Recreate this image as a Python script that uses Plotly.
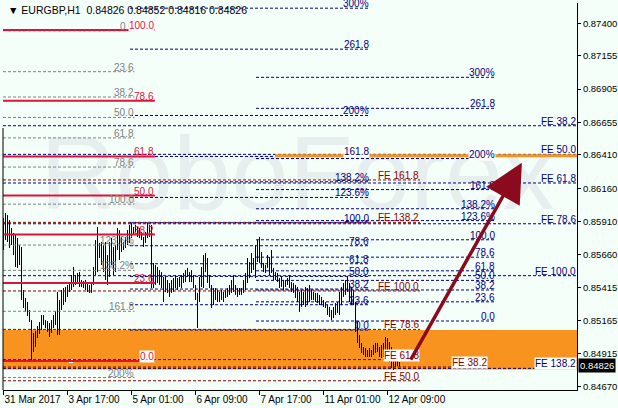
import plotly.graph_objects as go

# ---------------- data ----------------
bar_index = list(range(199))

bar_open = [
    0.85860, 0.85780, 0.85900, 0.85800, 0.85850, 0.85760, 0.85700, 0.85740, 0.85600, 0.85700,
    0.85340, 0.85300, 0.85260, 0.85220, 0.85160, 0.84990, 0.85000, 0.85060, 0.85100, 0.85140,
    0.85150, 0.85160, 0.85130, 0.85120, 0.85100, 0.85140, 0.85180, 0.85200, 0.85100, 0.85280,
    0.85330, 0.85350, 0.85380, 0.85400, 0.85440, 0.85480, 0.85470, 0.85490, 0.85460, 0.85450,
    0.85430, 0.85420, 0.85410, 0.85400, 0.85390, 0.85420, 0.85540, 0.85720, 0.85700, 0.85690,
    0.85620, 0.85680, 0.85520, 0.85610, 0.85720, 0.85640, 0.85690, 0.85700, 0.85780, 0.85730,
    0.85740, 0.85720, 0.85780, 0.85830, 0.85870, 0.85840, 0.85860, 0.85850, 0.85820, 0.85800,
    0.85780, 0.85760, 0.85820, 0.85870, 0.85860, 0.85480, 0.85520, 0.85500, 0.85480, 0.85460,
    0.85440, 0.85420, 0.85400, 0.85390, 0.85430, 0.85440, 0.85460, 0.85430, 0.85450, 0.85480,
    0.85500, 0.85520, 0.85530, 0.85510, 0.85520, 0.85480, 0.85420, 0.85360, 0.85340, 0.85480,
    0.85540, 0.85650, 0.85580, 0.85500, 0.85420, 0.85330, 0.85360, 0.85340, 0.85350, 0.85330,
    0.85360, 0.85350, 0.85380, 0.85400, 0.85420, 0.85450, 0.85400, 0.85370, 0.85380, 0.85390,
    0.85400, 0.85450, 0.85500, 0.85560, 0.85590, 0.85580, 0.85620, 0.85720, 0.85700, 0.85640,
    0.85580, 0.85560, 0.85570, 0.85580, 0.85620, 0.85540, 0.85500, 0.85480, 0.85470, 0.85430,
    0.85440, 0.85440, 0.85460, 0.85470, 0.85420, 0.85390, 0.85380, 0.85350, 0.85320, 0.85300,
    0.85350, 0.85300, 0.85380, 0.85400, 0.85340, 0.85360, 0.85330, 0.85340, 0.85310, 0.85300,
    0.85290, 0.85280, 0.85270, 0.85230, 0.85210, 0.85200, 0.85250, 0.85230, 0.85290, 0.85360,
    0.85400, 0.85440, 0.85460, 0.85420, 0.85330, 0.85390, 0.85300, 0.85090, 0.85000, 0.84970,
    0.84940, 0.84920, 0.84900, 0.84920, 0.84910, 0.84930, 0.84970, 0.84950, 0.84960, 0.84910,
    0.84960, 0.84980, 0.85000, 0.84970, 0.84880, 0.84840, 0.84860, 0.84840, 0.84826,
]
bar_high = [
    0.85936, 0.85973, 0.85958, 0.85921, 0.85860, 0.85823, 0.85808, 0.85785, 0.85733, 0.85718,
    0.85394, 0.85334, 0.85304, 0.85244, 0.85168, 0.85071, 0.85086, 0.85123, 0.85153, 0.85206,
    0.85206, 0.85168, 0.85161, 0.85146, 0.85168, 0.85206, 0.85236, 0.85379, 0.85319, 0.85394,
    0.85409, 0.85417, 0.85432, 0.85447, 0.85507, 0.85567, 0.85507, 0.85522, 0.85529, 0.85469,
    0.85462, 0.85469, 0.85447, 0.85432, 0.85447, 0.85567, 0.85770, 0.85868, 0.85748, 0.85755,
    0.85733, 0.85755, 0.85657, 0.85755, 0.85785, 0.85718, 0.85733, 0.85860, 0.85845, 0.85793,
    0.85755, 0.85793, 0.85845, 0.85883, 0.85898, 0.85868, 0.85883, 0.85868, 0.85860, 0.85830,
    0.85793, 0.85830, 0.85898, 0.85883, 0.85883, 0.85597, 0.85582, 0.85567, 0.85544, 0.85529,
    0.85492, 0.85492, 0.85469, 0.85447, 0.85469, 0.85484, 0.85507, 0.85484, 0.85492, 0.85507,
    0.85522, 0.85544, 0.85560, 0.85529, 0.85544, 0.85507, 0.85432, 0.85372, 0.85492, 0.85567,
    0.85657, 0.85672, 0.85635, 0.85507, 0.85432, 0.85409, 0.85409, 0.85394, 0.85379, 0.85394,
    0.85379, 0.85394, 0.85409, 0.85432, 0.85469, 0.85507, 0.85432, 0.85409, 0.85409, 0.85409,
    0.85469, 0.85522, 0.85635, 0.85605, 0.85672, 0.85635, 0.85733, 0.85770, 0.85793, 0.85680,
    0.85597, 0.85582, 0.85657, 0.85642, 0.85695, 0.85560, 0.85529, 0.85522, 0.85484, 0.85492,
    0.85469, 0.85469, 0.85484, 0.85507, 0.85454, 0.85447, 0.85432, 0.85417, 0.85379, 0.85394,
    0.85379, 0.85417, 0.85409, 0.85432, 0.85394, 0.85379, 0.85372, 0.85372, 0.85357, 0.85342,
    0.85319, 0.85304, 0.85281, 0.85266, 0.85244, 0.85266, 0.85296, 0.85304, 0.85379, 0.85417,
    0.85447, 0.85469, 0.85492, 0.85447, 0.85417, 0.85394, 0.85304, 0.85153, 0.85056, 0.84996,
    0.84966, 0.84958, 0.84943, 0.84958, 0.84943, 0.84981, 0.84996, 0.84996, 0.84966, 0.84981,
    0.84996, 0.85041, 0.85033, 0.85003, 0.84966, 0.84928, 0.84905, 0.84883, 0.84852,
]
bar_low = [
    0.85695, 0.85770, 0.85755, 0.85710, 0.85733, 0.85657, 0.85567, 0.85560, 0.85582, 0.85319,
    0.85259, 0.85229, 0.85198, 0.85153, 0.84860, 0.84928, 0.84966, 0.85033, 0.85063, 0.85093,
    0.85131, 0.85108, 0.85078, 0.85041, 0.85071, 0.85108, 0.85131, 0.85056, 0.85056, 0.85244,
    0.85281, 0.85304, 0.85342, 0.85379, 0.85394, 0.85417, 0.85432, 0.85447, 0.85417, 0.85417,
    0.85409, 0.85394, 0.85379, 0.85372, 0.85372, 0.85432, 0.85507, 0.85529, 0.85635, 0.85582,
    0.85529, 0.85469, 0.85432, 0.85492, 0.85582, 0.85507, 0.85529, 0.85695, 0.85620, 0.85680,
    0.85695, 0.85710, 0.85733, 0.85748, 0.85785, 0.85808, 0.85830, 0.85793, 0.85785, 0.85770,
    0.85718, 0.85748, 0.85785, 0.85793, 0.85409, 0.85409, 0.85432, 0.85447, 0.85432, 0.85409,
    0.85304, 0.85379, 0.85372, 0.85342, 0.85372, 0.85379, 0.85409, 0.85394, 0.85417, 0.85409,
    0.85447, 0.85454, 0.85492, 0.85454, 0.85454, 0.85409, 0.85319, 0.85108, 0.85304, 0.85417,
    0.85409, 0.85529, 0.85447, 0.85409, 0.85259, 0.85281, 0.85319, 0.85304, 0.85304, 0.85319,
    0.85304, 0.85334, 0.85342, 0.85357, 0.85372, 0.85379, 0.85357, 0.85342, 0.85357, 0.85357,
    0.85372, 0.85394, 0.85447, 0.85484, 0.85522, 0.85544, 0.85484, 0.85605, 0.85597, 0.85560,
    0.85529, 0.85522, 0.85560, 0.85507, 0.85522, 0.85469, 0.85469, 0.85454, 0.85409, 0.85417,
    0.85394, 0.85417, 0.85432, 0.85409, 0.85379, 0.85372, 0.85334, 0.85304, 0.85229, 0.85266,
    0.85281, 0.85266, 0.85281, 0.85304, 0.85319, 0.85319, 0.85304, 0.85296, 0.85281, 0.85281,
    0.85266, 0.85259, 0.85206, 0.85191, 0.85168, 0.85183, 0.85206, 0.85221, 0.85206, 0.85281,
    0.85342, 0.85357, 0.85379, 0.85304, 0.85281, 0.85281, 0.85078, 0.84996, 0.84958, 0.84920,
    0.84905, 0.84890, 0.84890, 0.84890, 0.84890, 0.84905, 0.84920, 0.84928, 0.84890, 0.84883,
    0.84890, 0.84928, 0.84920, 0.84853, 0.84808, 0.84792, 0.84815, 0.84820, 0.84816,
]
bar_close = [
    0.85780, 0.85900, 0.85800, 0.85850, 0.85760, 0.85700, 0.85740, 0.85600, 0.85700, 0.85340,
    0.85300, 0.85260, 0.85220, 0.85160, 0.84990, 0.85000, 0.85060, 0.85100, 0.85140, 0.85150,
    0.85160, 0.85130, 0.85120, 0.85100, 0.85140, 0.85180, 0.85200, 0.85100, 0.85280, 0.85330,
    0.85350, 0.85380, 0.85400, 0.85440, 0.85480, 0.85470, 0.85490, 0.85460, 0.85450, 0.85430,
    0.85420, 0.85410, 0.85400, 0.85390, 0.85420, 0.85540, 0.85720, 0.85700, 0.85690, 0.85620,
    0.85680, 0.85520, 0.85610, 0.85720, 0.85640, 0.85690, 0.85700, 0.85780, 0.85730, 0.85740,
    0.85720, 0.85780, 0.85830, 0.85870, 0.85840, 0.85860, 0.85850, 0.85820, 0.85800, 0.85780,
    0.85760, 0.85820, 0.85870, 0.85860, 0.85480, 0.85520, 0.85500, 0.85480, 0.85460, 0.85440,
    0.85420, 0.85400, 0.85390, 0.85430, 0.85440, 0.85460, 0.85430, 0.85450, 0.85480, 0.85500,
    0.85520, 0.85530, 0.85510, 0.85520, 0.85480, 0.85420, 0.85360, 0.85340, 0.85480, 0.85540,
    0.85650, 0.85580, 0.85500, 0.85420, 0.85330, 0.85360, 0.85340, 0.85350, 0.85330, 0.85360,
    0.85350, 0.85380, 0.85400, 0.85420, 0.85450, 0.85400, 0.85370, 0.85380, 0.85390, 0.85400,
    0.85450, 0.85500, 0.85560, 0.85590, 0.85580, 0.85620, 0.85720, 0.85700, 0.85640, 0.85580,
    0.85560, 0.85570, 0.85580, 0.85620, 0.85540, 0.85500, 0.85480, 0.85470, 0.85430, 0.85440,
    0.85440, 0.85460, 0.85470, 0.85420, 0.85390, 0.85380, 0.85350, 0.85320, 0.85300, 0.85350,
    0.85300, 0.85380, 0.85400, 0.85340, 0.85360, 0.85330, 0.85340, 0.85310, 0.85300, 0.85290,
    0.85280, 0.85270, 0.85230, 0.85210, 0.85200, 0.85250, 0.85230, 0.85290, 0.85360, 0.85400,
    0.85440, 0.85460, 0.85420, 0.85330, 0.85390, 0.85300, 0.85090, 0.85000, 0.84970, 0.84940,
    0.84920, 0.84900, 0.84920, 0.84910, 0.84930, 0.84970, 0.84950, 0.84960, 0.84910, 0.84960,
    0.84980, 0.85000, 0.84970, 0.84880, 0.84840, 0.84860, 0.84840, 0.84826, 0.84826,
]

time_tick_index = [0, 32, 64, 96, 128, 160, 192]
time_tick_labels = ["31 Mar 2017", "3 Apr 17:00", "5 Apr 01:00", "6 Apr 09:00",
                    "7 Apr 17:00", "11 Apr 01:00", "12 Apr 09:00"]
price_ticks = [0.87400, 0.87155, 0.86905, 0.86655, 0.86410, 0.86160,
               0.85910, 0.85660, 0.85415, 0.85165, 0.84915, 0.84670]
price_range = [0.84642, 0.87553]
bar_range = [-0.25, 286.75]

header_text = "▼ EURGBP,H1  0.84826 0.84852 0.84816 0.84826"
last_price = 0.84826

# Fibonacci retracement (solid red)
red_ratios = [0.0, 0.236, 0.382, 0.5, 0.618, 0.786, 1.0]
red_labels = ["0.0", "23.6", "38.2", "50.0", "61.8", "78.6", "100.0"]
red_anchor = [0.84860, 0.87350]
red_span = [-0.25, 75.7]
red_points_x = [14.9, 24.3, 33.7]
red_points_ratio = [1.0, 0.5, 0.0]

# Fibonacci (grey dashed)
gray_ratios = [0.0, 0.236, 0.382, 0.5, 0.618, 0.786, 1.0, 1.236, 1.382, 1.618, 2.0]
gray_labels = ["0.0", "23.6", "38.2", "50.0", "61.8", "78.6", "100.0",
               "123.6%", "138.2%", "161.8", "200%"]
gray_anchor = [0.87344, 0.86040]
gray_span = [-0.25, 65.5]

# Fibonacci extensions (navy dashed)
ext_ratios = [0.0, 0.236, 0.382, 0.5, 0.618, 0.786, 1.0, 1.236, 1.382, 1.618, 2.0, 2.618, 3.0]
ext_labels = ["0.0", "23.6", "38.2", "50.0", "61.8", "78.6", "100.0",
              "123.6%", "138.2%", "161.8", "200%", "261.8", "300%"]
fibo_a_anchor = [0.85093, 0.85900]
fibo_a_span = [63.25, 183.25]
fibo_b_anchor = [0.85161, 0.85772]
fibo_b_span = [126.25, 246.25]

# Fibonacci expansion (dark red dashed)
fe_red_ratios = [0.5, 0.618, 0.786, 1.0, 1.382, 1.618]
fe_red_labels = ["FE 50.0", "FE 61.8", "FE 78.6", "FE 100.0", "FE 138.2", "FE 161.8"]
fe_red_anchor = [0.84036, 0.85387]
fe_red_span = [-0.25, 208.25]
fe_red_extra_level = [0.84815]
fe_red_extra_label = ["FE 38.2"]
fe_red_extra_span = [-0.25, 242.3]

# Fibonacci expansion (navy dashed, right)
fe_blue_ratios = [0.382, 0.5, 0.618, 0.786, 1.0, 1.382]
fe_blue_labels = ["FE 38.2", "FE 50.0", "FE 61.8", "FE 78.6", "FE 100.0", "FE 138.2"]
fe_blue_anchor = [0.87327, 0.85502]
fe_blue_span = [-0.25, 286.75]

# zones
orange_zone = [0.84796, 0.85093]
orange_level = 0.86404
orange_level_start = 135.75
left_frame_top = 0.86613

# arrow (tail -> head)
arrow_x = [203.2, 259.2]
arrow_y = [0.84860, 0.86352]

# ---------------- styles ----------------
BG = "#F5FFFA"
NAVY = "#000080"
GRAY = "#808080"
DARKRED = "#8B0000"
CRIMSON = "#DC143C"
ORANGE = "#F7931E"
FONT = "Liberation Sans"
LBL = 10
DASH = "3px,2px"

fig = go.Figure()

# watermark
fig.add_trace(go.Scatter(
    x=[147], y=[0.86200], mode="text", text=["RoboForex"],
    textfont=dict(family=FONT, size=104, color="#E7EFEE"),
    hoverinfo="skip", showlegend=False))

# bars
fig.add_trace(go.Ohlc(
    x=bar_index, open=bar_open, high=bar_high, low=bar_low, close=bar_close,
    increasing=dict(line=dict(color="black", width=1)),
    decreasing=dict(line=dict(color="black", width=1)),
    tickwidth=0, showlegend=False, hoverinfo="skip"))

# anchor points of red fibo
fig.add_trace(go.Scatter(
    x=red_points_x,
    y=[red_anchor[0] + r * (red_anchor[1] - red_anchor[0]) for r in red_points_ratio],
    mode="markers", marker=dict(symbol="square", size=4, color="white"),
    hoverinfo="skip", showlegend=False))

shapes = []
annotations = []

shapes.append(dict(type="rect", xref="paper", yref="y", x0=0, x1=1,
                   y0=orange_zone[0], y1=orange_zone[1],
                   fillcolor=ORANGE, line=dict(width=0), layer="below"))

boxed = {("red", "0.0"), ("red", "100.0"), ("a", "161.8"), ("b", "200%"),
         ("fer", "FE 61.8"), ("feb", "FE 138.2")}


def add_tool(key, ratios, labels, anchor, span, color, width, dash, lcolor=None):
    for r, lab in zip(ratios, labels):
        p = anchor[0] + r * (anchor[1] - anchor[0])
        shapes.append(dict(type="line", xref="x", yref="y", x0=span[0], x1=span[1],
                           y0=p, y1=p, line=dict(color=color, width=width, dash=dash),
                           layer="above"))
        ann = dict(x=span[1], y=p, xref="x", yref="y", text=lab, showarrow=False,
                   xanchor="right", yanchor="bottom", yshift=-2, borderpad=0,
                   font=dict(family=FONT, size=LBL, color=lcolor or color))
        if (key, lab) in boxed:
            ann["bgcolor"] = "white"
        annotations.append(ann)


add_tool("feb", fe_blue_ratios, fe_blue_labels, fe_blue_anchor, fe_blue_span, NAVY, 1, DASH)
add_tool("fer", fe_red_ratios, fe_red_labels, fe_red_anchor, fe_red_span, DARKRED, 1, DASH)
add_tool("gray", gray_ratios, gray_labels, gray_anchor, gray_span, GRAY, 1, DASH)
add_tool("a", ext_ratios, ext_labels, fibo_a_anchor, fibo_a_span, NAVY, 1, DASH)
add_tool("b", ext_ratios, ext_labels, fibo_b_anchor, fibo_b_span, NAVY, 1, DASH)
add_tool("red", red_ratios, red_labels, red_anchor, red_span, CRIMSON, 2, "solid")

for p, lab in zip(fe_red_extra_level, fe_red_extra_label):
    shapes.append(dict(type="line", xref="x", yref="y", x0=fe_red_extra_span[0],
                       x1=fe_red_extra_span[1], y0=p, y1=p,
                       line=dict(color=DARKRED, width=1, dash=DASH), layer="above"))
    annotations.append(dict(x=fe_red_extra_span[1], y=p, xref="x", yref="y", text=lab,
                            showarrow=False, xanchor="right", yanchor="bottom", yshift=-2,
                            borderpad=0, bgcolor="white",
                            font=dict(family=FONT, size=LBL, color=DARKRED)))

shapes.append(dict(type="line", xref="x", yref="y", x0=orange_level_start, x1=bar_range[1],
                   y0=orange_level, y1=orange_level, line=dict(color=ORANGE, width=3),
                   layer="above"))
shapes.append(dict(type="line", xref="paper", yref="y", x0=0, x1=0,
                   y0=price_range[0], y1=left_frame_top,
                   line=dict(color="black", width=1), layer="above"))

# labels with a white box go on top of the others
annotations.sort(key=lambda a: 1 if a.get("bgcolor") else 0)

# arrow
annotations.append(dict(x=arrow_x[1], y=arrow_y[1], ax=arrow_x[0], ay=arrow_y[0],
                        xref="x", yref="y", axref="x", ayref="y", text="",
                        showarrow=True, arrowhead=2, arrowsize=2.2, arrowwidth=3.5,
                        arrowcolor="#8B0A1E"))

# header
annotations.append(dict(x=0.006, y=0.982, xref="paper", yref="paper", text=header_text,
                        showarrow=False, xanchor="left", yanchor="middle",
                        font=dict(family=FONT, size=10.5, color="black")))

# last price label
annotations.append(dict(x=1, y=last_price, xref="paper", yref="y",
                        text="%.5f" % last_price, showarrow=False, xanchor="left",
                        yanchor="middle", xshift=1, bgcolor="black", borderpad=1,
                        font=dict(family=FONT, size=9.5, color="white")))

fig.update_layout(
    width=618, height=408, autosize=False,
    margin=dict(l=3, r=41, t=3, b=18, autoexpand=False),
    paper_bgcolor=BG, plot_bgcolor=BG,
    showlegend=False, hovermode=False,
    shapes=shapes, annotations=annotations,
    xaxis=dict(range=bar_range, tickvals=time_tick_index, ticktext=time_tick_labels,
               tickangle=0, automargin=False,
               ticks="outside", ticklen=4, tickcolor="black",
               ticklabelposition="outside right",
               showline=True, linecolor="black", linewidth=1,
               showgrid=False, zeroline=False, rangeslider=dict(visible=False),
               tickfont=dict(family=FONT, size=10, color="black"), fixedrange=True),
    yaxis=dict(range=price_range, side="right", tickvals=price_ticks,
               ticktext=["%.5f" % v for v in price_ticks], automargin=False,
               ticks="outside", ticklen=3, tickcolor="black",
               showline=True, linecolor="black", linewidth=1,
               showgrid=False, zeroline=False,
               tickfont=dict(family=FONT, size=9.5, color="black"), fixedrange=True),
)

fig.write_html("out.html", config={"displayModeBar": False})

# remove the browser's default page margin so the figure sits at (0, 0)
with open("out.html", "r", encoding="utf-8") as f:
    html = f.read()
html = html.replace("<head>", "<head><style>html,body{margin:0;padding:0;background:%s;}</style>" % BG, 1)
with open("out.html", "w", encoding="utf-8") as f:
    f.write(html)
